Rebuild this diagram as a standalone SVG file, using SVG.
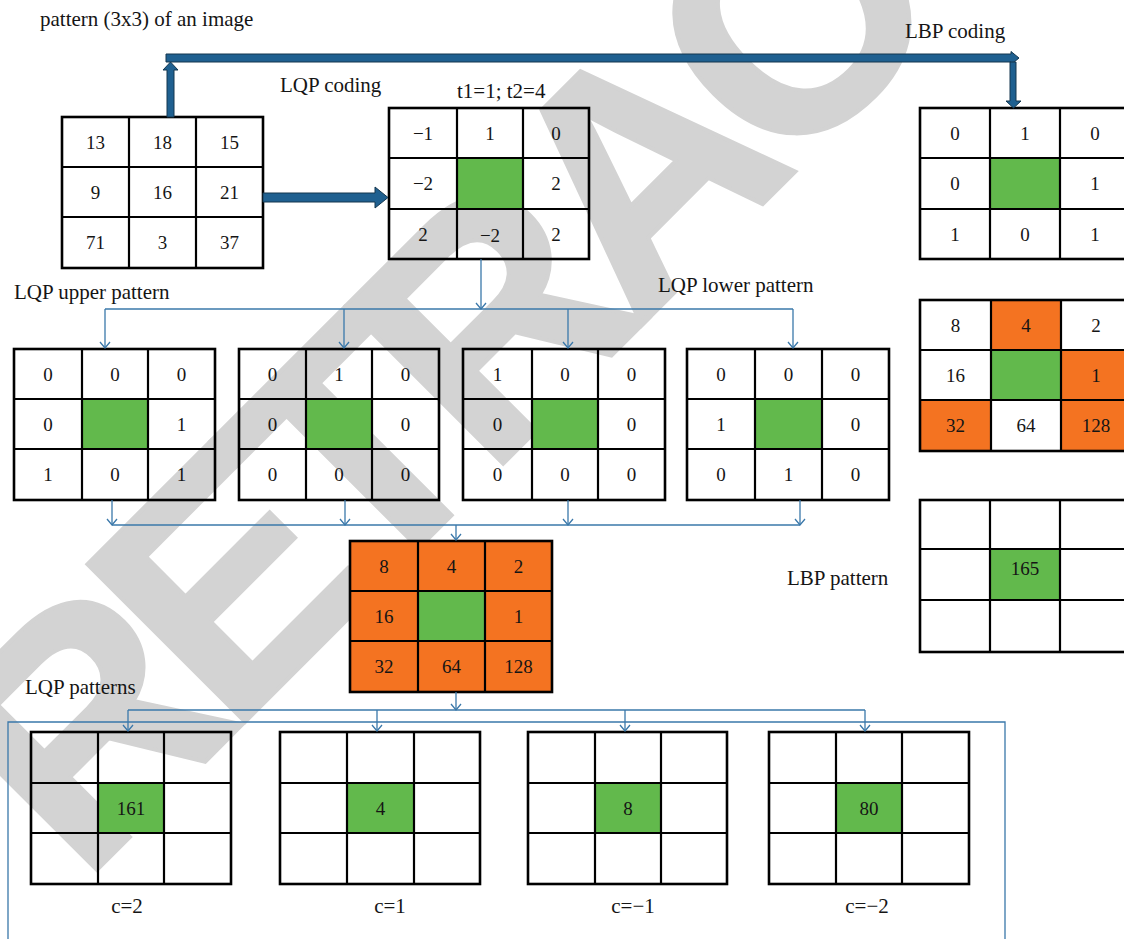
<svg xmlns="http://www.w3.org/2000/svg" width="1124" height="939" viewBox="0 0 1124 939">
<style>
text{font-family:"Liberation Serif","Times New Roman",serif;fill:#151515}
.n{font-size:19px;text-anchor:middle}
.lbl{font-size:21px}
.c{font-size:21px;text-anchor:middle}
.g{fill:#62b94c}
.o{fill:#f47321}
.grid rect.b{fill:none;stroke:#000;stroke-width:2.6}
.grid path{fill:none;stroke:#000;stroke-width:2.2}
.thin{fill:none;stroke:#3a78aa;stroke-width:1.3}
.thick{fill:#1f6090;stroke:#14374f;stroke-width:1}
.wm{font-family:"Liberation Sans",Arial,sans-serif;font-weight:bold;font-size:324px;fill:#d3d3d3;stroke:#d3d3d3;stroke-width:4;letter-spacing:-24.5px}
</style>
<defs>
<marker id="ah" viewBox="-8 -6 10 12" refX="0" refY="0" markerWidth="10" markerHeight="12" markerUnits="userSpaceOnUse" orient="auto">
<path d="M-6,-5 L0,0 L-6,5" fill="none" stroke="#3a78aa" stroke-width="1.3"/>
</marker>
</defs>
<rect x="0" y="0" width="1124" height="939" fill="#fff"/>
<text class="wm" transform="translate(81.6,885.3) rotate(-45)">RETRACTED</text>

<g id="labels">
<text class="lbl" x="40" y="26">pattern (3x3) of an image</text>
<text class="lbl" x="280" y="92">LQP coding</text>
<text class="lbl" x="457" y="98">t1=1; t2=4</text>
<text class="lbl" x="905" y="38">LBP coding</text>
<text class="lbl" x="14" y="299">LQP upper pattern</text>
<text class="lbl" x="658" y="292">LQP lower pattern</text>
<text class="lbl" x="787" y="585">LBP pattern</text>
<text class="lbl" x="25" y="694">LQP patterns</text>
<text class="c" x="127" y="913">c=2</text>
<text class="c" x="390" y="913">c=1</text>
<text class="c" x="633" y="913">c=−1</text>
<text class="c" x="867" y="913">c=−2</text>
</g>

<g id="input" class="grid">
<rect class="b" x="62" y="117" width="201" height="151"/>
<path d="M129,117V268M196,117V268M62,167H263M62,217H263"/>
<text class="n" x="95.5" y="148.5">13</text><text class="n" x="162.5" y="148.5">18</text><text class="n" x="229.5" y="148.5">15</text>
<text class="n" x="95.5" y="198.5">9</text><text class="n" x="162.5" y="198.5">16</text><text class="n" x="229.5" y="198.5">21</text>
<text class="n" x="95.5" y="249">71</text><text class="n" x="162.5" y="249">3</text><text class="n" x="229.5" y="249">37</text>
</g>

<g id="lqp" class="grid">
<rect class="g" x="457" y="158" width="66" height="51"/>
<rect class="b" x="389" y="108" width="200" height="151"/>
<path d="M457,108V259M523,108V259M389,158H589M389,209H589"/>
<text class="n" x="423" y="139.5">−1</text><text class="n" x="490" y="139.5">1</text><text class="n" x="556" y="139.5">0</text>
<text class="n" x="423" y="190">−2</text><text class="n" x="556" y="190">2</text>
<text class="n" x="423" y="240.5">2</text><text class="n" x="490" y="241.5">−2</text><text class="n" x="556" y="240.5">2</text>
</g>

<g id="lbp" class="grid">
<rect class="g" x="990" y="158" width="70" height="51"/>
<rect class="b" x="920" y="108" width="210" height="151"/>
<path d="M990,108V259M1060,108V259M920,158H1130M920,209H1130"/>
<text class="n" x="955" y="139.5">0</text><text class="n" x="1025" y="139.5">1</text><text class="n" x="1095" y="139.5">0</text>
<text class="n" x="955" y="190">0</text><text class="n" x="1095" y="190">1</text>
<text class="n" x="955" y="240.5">1</text><text class="n" x="1025" y="240.5">0</text><text class="n" x="1095" y="240.5">1</text>
</g>

<g id="upper1" class="grid">
<rect class="g" x="82" y="399" width="66" height="50"/>
<rect class="b" x="14" y="349" width="201" height="151"/>
<path d="M82,349V500M148,349V500M14,399H215M14,449H215"/>
<text class="n" x="48" y="380.5">0</text><text class="n" x="115" y="380.5">0</text><text class="n" x="181.5" y="380.5">0</text>
<text class="n" x="48" y="430.5">0</text><text class="n" x="181.5" y="430.5">1</text>
<text class="n" x="48" y="481">1</text><text class="n" x="115" y="481">0</text><text class="n" x="181.5" y="481">1</text>
</g>

<g id="upper2" class="grid">
<rect class="g" x="306" y="399" width="66" height="50"/>
<rect class="b" x="239" y="349" width="200" height="151"/>
<path d="M306,349V500M372,349V500M239,399H439M239,449H439"/>
<text class="n" x="272.5" y="380.5">0</text><text class="n" x="339" y="380.5">1</text><text class="n" x="405.5" y="380.5">0</text>
<text class="n" x="272.5" y="430.5">0</text><text class="n" x="405.5" y="430.5">0</text>
<text class="n" x="272.5" y="481">0</text><text class="n" x="339" y="481">0</text><text class="n" x="405.5" y="481">0</text>
</g>

<g id="lower1" class="grid">
<rect class="g" x="532" y="399" width="66" height="50"/>
<rect class="b" x="463" y="349" width="202" height="151"/>
<path d="M532,349V500M598,349V500M463,399H665M463,449H665"/>
<text class="n" x="497.5" y="380.5">1</text><text class="n" x="565" y="380.5">0</text><text class="n" x="631.5" y="380.5">0</text>
<text class="n" x="497.5" y="430.5">0</text><text class="n" x="631.5" y="430.5">0</text>
<text class="n" x="497.5" y="481">0</text><text class="n" x="565" y="481">0</text><text class="n" x="631.5" y="481">0</text>
</g>

<g id="lower2" class="grid">
<rect class="g" x="755" y="399" width="67" height="50"/>
<rect class="b" x="687" y="349" width="202" height="151"/>
<path d="M755,349V500M822,349V500M687,399H889M687,449H889"/>
<text class="n" x="721" y="380.5">0</text><text class="n" x="788.5" y="380.5">0</text><text class="n" x="855.5" y="380.5">0</text>
<text class="n" x="721" y="430.5">1</text><text class="n" x="855.5" y="430.5">0</text>
<text class="n" x="721" y="481">0</text><text class="n" x="788.5" y="481">1</text><text class="n" x="855.5" y="481">0</text>
</g>

<g id="weights" class="grid">
<rect class="o" x="350" y="541" width="202" height="151"/>
<rect class="g" x="418" y="591" width="67" height="50"/>
<rect class="b" x="350" y="541" width="202" height="151"/>
<path d="M418,541V692M485,541V692M350,591H552M350,641H552"/>
<text class="n" x="384" y="572.5">8</text><text class="n" x="451.5" y="572.5">4</text><text class="n" x="518.5" y="572.5">2</text>
<text class="n" x="384" y="622.5">16</text><text class="n" x="518.5" y="622.5">1</text>
<text class="n" x="384" y="673">32</text><text class="n" x="451.5" y="673">64</text><text class="n" x="518.5" y="673">128</text>
</g>

<g id="lbpweights" class="grid">
<rect class="o" x="991" y="300" width="70" height="50"/>
<rect class="g" x="991" y="350" width="70" height="50"/>
<rect class="o" x="1061" y="350" width="70" height="50"/>
<rect class="o" x="920" y="400" width="71" height="51"/>
<rect class="o" x="1061" y="400" width="70" height="51"/>
<rect class="b" x="920" y="300" width="211" height="151"/>
<path d="M991,300V451M1061,300V451M920,350H1131M920,400H1131"/>
<text class="n" x="955.5" y="331.5">8</text><text class="n" x="1026" y="331.5">4</text><text class="n" x="1096" y="331.5">2</text>
<text class="n" x="955.5" y="381.5">16</text><text class="n" x="1096" y="381.5">1</text>
<text class="n" x="955.5" y="432">32</text><text class="n" x="1026" y="432">64</text><text class="n" x="1096" y="432">128</text>
</g>

<g id="lbppattern" class="grid">
<rect class="g" x="990" y="549" width="70" height="51"/>
<rect class="b" x="920" y="500" width="210" height="152"/>
<path d="M990,500V652M1060,500V652M920,549H1130M920,600H1130"/>
<text class="n" x="1025" y="575">165</text>
</g>

<g id="pattern1" class="grid">
<rect class="g" x="98" y="783" width="66" height="50"/>
<rect class="b" x="31" y="732" width="200" height="152"/>
<path d="M98,732V884M164,732V884M31,783H231M31,833H231"/>
<text class="n" x="131" y="814.5">161</text>
</g>
<g id="pattern2" class="grid">
<rect class="g" x="347" y="783" width="67" height="50"/>
<rect class="b" x="280" y="732" width="200" height="152"/>
<path d="M347,732V884M414,732V884M280,783H480M280,833H480"/>
<text class="n" x="380.5" y="814.5">4</text>
</g>
<g id="pattern3" class="grid">
<rect class="g" x="595" y="783" width="66" height="50"/>
<rect class="b" x="528" y="732" width="199" height="152"/>
<path d="M595,732V884M661,732V884M528,783H727M528,833H727"/>
<text class="n" x="628" y="814.5">8</text>
</g>
<g id="pattern4" class="grid">
<rect class="g" x="836" y="783" width="66" height="50"/>
<rect class="b" x="769" y="732" width="200" height="152"/>
<path d="M836,732V884M902,732V884M769,783H969M769,833H969"/>
<text class="n" x="869" y="814.5">80</text>
</g>

<g id="connectors">
<polygon class="thick" points="167,117 167,70 163,70 170.5,62 178,70 174,70 174,117"/>
<polygon class="thick" points="166,54 1011,54 1011,51.5 1019,58 1011,64.5 1011,62 166,62"/>
<polygon class="thick" points="1010,62 1016,62 1016,101 1021,101 1013.5,108 1006,101 1010,101"/>
<polygon class="thick" points="263,193 375,193 375,187 388,197.5 375,208 375,202 263,202"/>
<path class="thin" d="M481,259V309" marker-end="url(#ah)"/>
<path class="thin" d="M105,309H793"/>
<path class="thin" d="M105,309V348" marker-end="url(#ah)"/>
<path class="thin" d="M344,309V348" marker-end="url(#ah)"/>
<path class="thin" d="M568,309V348" marker-end="url(#ah)"/>
<path class="thin" d="M793,309V348" marker-end="url(#ah)"/>
<path class="thin" d="M112,500V525" marker-end="url(#ah)"/>
<path class="thin" d="M345,500V525" marker-end="url(#ah)"/>
<path class="thin" d="M568,500V525" marker-end="url(#ah)"/>
<path class="thin" d="M800,500V525" marker-end="url(#ah)"/>
<path class="thin" d="M112,525H800"/>
<path class="thin" d="M456,525V540" marker-end="url(#ah)"/>
<path class="thin" d="M456,692V710" marker-end="url(#ah)"/>
<path class="thin" d="M128,710H865"/>
<path class="thin" d="M128,710V731" marker-end="url(#ah)"/>
<path class="thin" d="M377,710V731" marker-end="url(#ah)"/>
<path class="thin" d="M625,710V731" marker-end="url(#ah)"/>
<path class="thin" d="M865,710V731" marker-end="url(#ah)"/>
<path class="thin" d="M8,939V722H1005V939"/>
</g>
</svg>
